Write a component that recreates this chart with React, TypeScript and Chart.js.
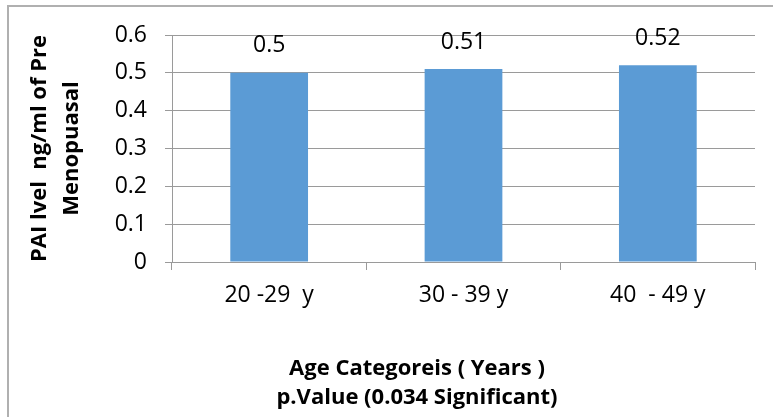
import React, { useEffect, useRef } from "react";
import { Chart, registerables } from "chart.js";

Chart.register(...registerables);

const categories: string[] = ["20 -29  y", "30 - 39 y", "40  - 49 y"];
const values: number[] = [0.5, 0.51, 0.52];
const valueLabels: string[] = ["0.5", "0.51", "0.52"];
const yTitleLines: string[] = ["PAI lvel  ng/ml of Pre", "Menopuasal"];
const xTitleLines: string[] = ["Age Categoreis ( Years )", "p.Value (0.034 Significant)"];

const FONT = "'Open Sans', 'Noto Sans', sans-serif";
const GRID = "#9a9a9a";

export default function App() {
  const ref = useRef<HTMLCanvasElement | null>(null);

  useEffect(() => {
    if (!ref.current) return;

    const valueLabelPlugin = {
      id: "valueLabels",
      afterDatasetsDraw(chart: any) {
        const ctx = chart.ctx;
        const meta = chart.getDatasetMeta(0);
        ctx.save();
        ctx.font = `23px ${FONT}`;
        ctx.fillStyle = "#000";
        ctx.textAlign = "center";
        ctx.textBaseline = "middle";
        meta.data.forEach((bar: any, i: number) => {
          ctx.fillText(valueLabels[i], bar.x, bar.y - 27);
        });
        ctx.restore();
      },
    };

    const bottomTitlePlugin = {
      id: "bottomTitle",
      afterDraw(chart: any) {
        const ctx = chart.ctx;
        const area = chart.chartArea;
        ctx.save();
        ctx.font = `bold 22px ${FONT}`;
        ctx.fillStyle = "#000";
        ctx.textAlign = "center";
        ctx.textBaseline = "middle";
        const cx = area.left + 245;
        xTitleLines.forEach((line, i) => {
          ctx.fillText(line, cx, area.bottom + 107 + i * 29);
        });
        ctx.restore();
      },
    };

    const chart = new Chart(ref.current, {
      type: "bar",
      data: {
        labels: categories,
        datasets: [
          {
            data: values,
            backgroundColor: "#5b9bd5",
            borderWidth: 0,
            categoryPercentage: 1,
            barPercentage: 0.4,
          },
        ],
      },
      options: {
        animation: false,
        responsive: true,
        maintainAspectRatio: false,
        layout: { padding: { left: 24, top: 35, right: 18, bottom: 0 } },
        plugins: {
          legend: { display: false },
          tooltip: { enabled: false },
          title: { display: false },
        },
        scales: {
          x: {
            type: "category",
            grid: {
              offset: true,
              drawOnChartArea: false,
              drawTicks: true,
              tickLength: 8,
              color: GRID,
            },
            border: { display: true, color: GRID, width: 1 },
            ticks: {
              color: "#000",
              font: { family: FONT, size: 23 },
              padding: 12,
              maxRotation: 0,
              autoSkip: false,
            },
            afterFit: (scale: any) => {
              scale.height = 155;
            },
          },
          y: {
            min: 0,
            max: 0.6,
            ticks: {
              stepSize: 0.1,
              color: "#000",
              font: { family: FONT, size: 23 },
              padding: 18,
            },
            grid: { color: GRID, tickLength: 7, drawTicks: true },
            border: { display: true, color: GRID, width: 1 },
            title: {
              display: true,
              text: yTitleLines,
              color: "#000",
              font: { family: FONT, size: 22, weight: "bold", lineHeight: 1.45 },
              padding: { top: 0, bottom: 0 },
            },
            afterFit: (scale: any) => {
              scale.width = 148;
            },
          },
        },
      },
      plugins: [valueLabelPlugin, bottomTitlePlugin],
    });

    return () => chart.destroy();
  }, []);

  return (
    <div
      style={{
        position: "fixed",
        left: 0,
        top: 0,
        width: 773,
        height: 417,
        overflow: "hidden",
        background: "#fff",
      }}
    >
      <div
        style={{
          position: "absolute",
          left: 7,
          top: 5,
          width: 820,
          height: 500,
          border: "2px solid #b0b0b0",
          boxSizing: "border-box",
        }}
      />
      <div style={{ position: "absolute", left: 0, top: 0, width: 773, height: 417 }}>
        <canvas ref={ref} />
      </div>
    </div>
  );
}
